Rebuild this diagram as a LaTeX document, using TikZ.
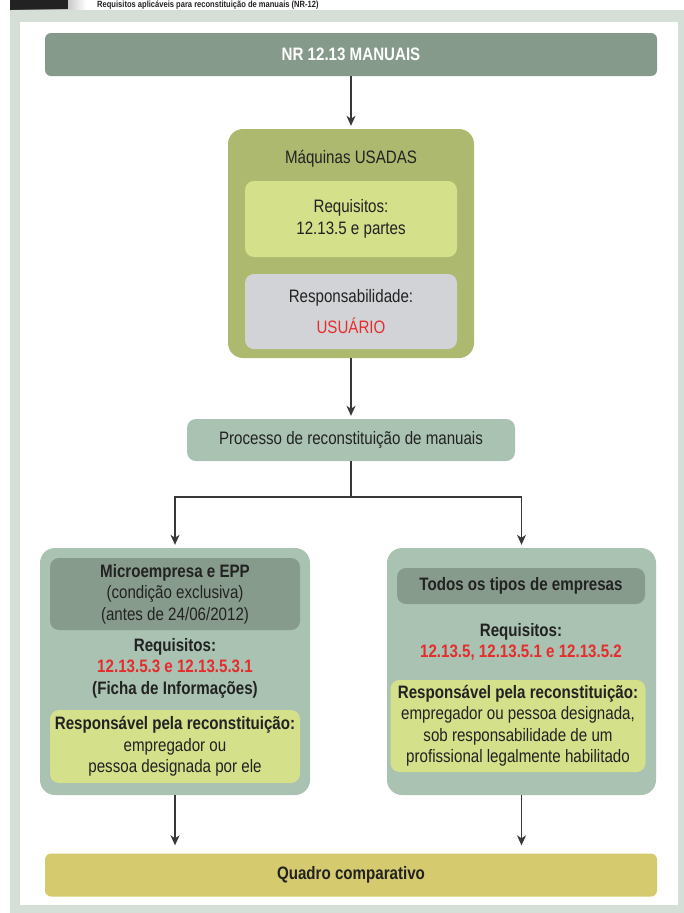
\documentclass[tikz,border=0pt]{standalone}
\usepackage{fontspec}
\setmainfont{Liberation Sans}[FakeStretch=0.84]
\usepackage{tikz}
\usetikzlibrary{arrows.meta,positioning,calc}
\definecolor{ink}{HTML}{222222}
\definecolor{frame}{HTML}{D5DFD8}
\definecolor{bar}{HTML}{869A8C}
\definecolor{olive}{HTML}{ADB96F}
\definecolor{lime}{HTML}{D4E08A}
\definecolor{greyb}{HTML}{D2D3D6}
\definecolor{sage}{HTML}{A9C2B2}
\definecolor{sagedk}{HTML}{879B8C}
\definecolor{mustard}{HTML}{D5CA6E}
\definecolor{alert}{HTML}{E52D2D}
\tikzset{
  txt/.style={font=\fontsize{18}{21.5}\selectfont,text=ink,align=center,inner sep=0pt},
  btxt/.style={txt,font=\fontsize{18}{21.5}\selectfont\bfseries},
  wide/.style={draw=none,rounded corners=6pt,minimum width=612pt,minimum height=43pt,btxt},
  panel/.style={draw=none,rounded corners=15pt,fill=sage,minimum width=270pt,minimum height=247pt},
  inbox/.style={draw=none,rounded corners=9pt,txt},
  flow/.style={-{Stealth[length=10pt,width=9pt,inset=3pt]},line width=1.2pt,draw=ink!90,shorten >=3pt}
}
\begin{document}
\begin{tikzpicture}[x=1pt,y=-1pt]
  \useasboundingbox (0,0) rectangle (684,913);
  \clip (0,0) rectangle (684,913);
  % frame and header
  \fill[frame] (10,10) rectangle (684,913);
  \fill[white] (20,22) rectangle (678,905);
  \shade[left color=ink,right color=white] (10,-6) rectangle (86,9);
  \fill[ink] (10,-6) rectangle (68,9);
  \node[txt,font=\fontsize{9}{10}\selectfont\bfseries,anchor=base west] (head) at (97,7.5) {Requisitos aplicáveis para reconstituição de manuais (NR-12)};
  % top and bottom bars
  \node[wide,fill=bar,text=white] (nr) at (351,54.5) {NR 12.13 MANUAIS};
  \node[wide,fill=mustard] (quadro) at (351,875) {Quadro comparativo};
  % used machines
  \node[draw=none,rounded corners=15pt,fill=olive,minimum width=246pt,minimum height=229pt] (usadas) at (351,243.5) {};
  \node[txt] (usadasT) at (351,159) {Máquinas USADAS};
  \node[inbox,fill=lime,minimum width=212pt,minimum height=76pt] (req) at (351,219) {Requisitos:\\12.13.5 e partes};
  \node[inbox,fill=greyb,minimum width=212pt,minimum height=75pt] (resp) at (351,311.5) {Responsabilidade:\\[9pt]\textcolor{alert}{USUÁRIO}};
  \node[inbox,fill=sage,minimum width=328pt,minimum height=42pt] (proc) at (351,440) {Processo de reconstituição de manuais};
  % left branch
  \node[panel] (left) at (175,671.5) {};
  \node[inbox,fill=sagedk,minimum width=250pt,minimum height=72pt] (leftH) at (175,594) {\textbf{Microempresa e EPP}\\(condição exclusiva)\\(antes de 24/06/2012)};
  \node[btxt] (leftR) at (175,668) {Requisitos:\\\textcolor{alert}{12.13.5.3 e 12.13.5.3.1}\\(Ficha de Informações)};
  \node[inbox,fill=lime,minimum width=250pt,minimum height=73pt] (leftY) at (175,746.5) {\textbf{Responsável pela reconstituição:}\\empregador ou\\pessoa designada por ele};
  % right branch
  \node[panel,minimum width=269pt] (right) at (521.5,671.5) {};
  \node[inbox,fill=sagedk,minimum width=248pt,minimum height=36pt,font=\fontsize{18}{21.5}\selectfont\bfseries] (rightH) at (521,586) {Todos os tipos de empresas};
  \node[btxt] (rightR) at (521,642) {Requisitos:\\\textcolor{alert}{12.13.5, 12.13.5.1 e 12.13.5.2}};
  \node[inbox,fill=lime,minimum width=255pt,minimum height=92pt] (rightY) at (518,726) {\textbf{Responsável pela reconstituição:}\\empregador ou pessoa designada,\\sob responsabilidade de um\\profissional legalmente habilitado};
  % connectors
  \coordinate (split) at (351,497);
  \draw[flow] (nr) -- (usadas);
  \draw[flow] (usadas) -- (proc);
  \draw[line width=1.2pt,draw=ink!90] (proc.south) -- (split);
  \draw[flow] (split) -| (left.north);
  \draw[flow] (split) -| (right.north);
  \draw[flow,shorten >=8pt] (left.south) -- (left.south |- quadro.north);
  \draw[flow,shorten >=8pt] (right.south) -- (right.south |- quadro.north);
\end{tikzpicture}
\end{document}
